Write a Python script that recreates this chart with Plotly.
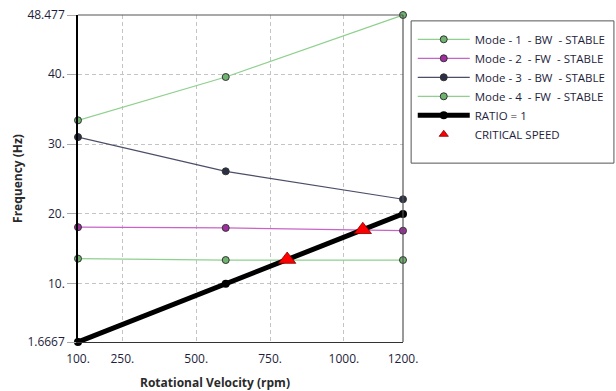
import plotly.graph_objects as go

# Campbell diagram data
speed_rpm = [100, 600, 1200]
mode1_bw = [13.6, 13.4, 13.4]
mode2_fw = [18.1, 18.0, 17.6]
mode3_bw = [31.0, 26.1, 22.1]
mode4_fw = [33.4, 39.6, 48.477]
ratio_1 = [1.6667, 10.0, 20.0]
crit_rpm = [808, 1064]
crit_freq = [13.47, 17.73]

x_ticks = [100, 250, 500, 750, 1000, 1200]
x_ticktext = ["100.", "250.", "500.", "750.", "1000.", "1200."]
y_ticks = [1.6667, 10, 20, 30, 40, 48.477]
y_ticktext = ["1.6667", "10.", "20.", "30.", "40.", "48.477"]

NB = "\u00a0"
TEXT = "#1e1e3c"
fig = go.Figure()


def mode_trace(name, y, line_col, mark_col):
    return go.Scatter(
        x=speed_rpm, y=y, name=name, mode="lines+markers", cliponaxis=False,
        line=dict(color=line_col, width=1.2),
        marker=dict(color=mark_col, size=7, line=dict(color="#333333", width=1)),
    )


fig.add_trace(mode_trace(f"Mode - 1{NB} - BW{NB} - STABLE", mode1_bw, "#8fd08f", "#6fb46f"))
fig.add_trace(mode_trace(f"Mode - 2{NB} - FW{NB} - STABLE", mode2_fw, "#c864c8", "#a02ea0"))
fig.add_trace(mode_trace(f"Mode - 3{NB} - BW{NB} - STABLE", mode3_bw, "#4a4e66", "#2b3045"))
fig.add_trace(mode_trace(f"Mode - 4{NB} - FW{NB} - STABLE", mode4_fw, "#8fd08f", "#6fb46f"))
fig.add_trace(go.Scatter(
    x=speed_rpm, y=ratio_1, name="RATIO = 1", mode="lines+markers", cliponaxis=False,
    line=dict(color="black", width=5),
    marker=dict(color="black", size=8),
))
# critical speed markers on the plot (legend entry drawn by a smaller proxy)
fig.add_trace(go.Scatter(
    x=crit_rpm, y=crit_freq, name="CRITICAL SPEED", mode="markers", showlegend=False,
    cliponaxis=False,
    marker=dict(symbol="triangle-up", color="#ff0000", size=15,
                line=dict(color="#800000", width=0.8)),
))
fig.add_trace(go.Scatter(
    x=[None], y=[None], name="CRITICAL SPEED", mode="markers",
    marker=dict(symbol="triangle-up", color="#ff0000", size=8,
                line=dict(color="#800000", width=0.8)),
))

# legend frame and plot frame
fig.add_shape(type="rect", xref="paper", yref="paper", x0=1.025, x1=1.649, y0=0.547, y1=0.982,
              line=dict(color="#555555", width=1), layer="below")
fig.add_shape(type="line", xref="paper", yref="paper", x0=0, x1=1, y0=1, y1=1,
              line=dict(color="#555555", width=1.2))
fig.add_shape(type="line", xref="paper", yref="paper", x0=1, x1=1, y0=0, y1=1,
              line=dict(color="#555555", width=1.2))

fig.add_annotation(text="<b>Rotational Velocity (rpm)</b>", xref="paper", yref="paper",
                   x=0.42, y=-0.125, xanchor="center", yanchor="middle", showarrow=False,
                   font=dict(size=12, color="#2a2a2a"))

fig.update_layout(
    width=616, height=391,
    margin=dict(l=78, r=213, t=15, b=49, autoexpand=False),
    paper_bgcolor="white", plot_bgcolor="white",
    font=dict(family="Open Sans, DejaVu Sans, sans-serif", size=11, color=TEXT),
    showlegend=True,
    legend=dict(x=1.03, y=0.97, xanchor="left", yanchor="top",
                bgcolor="rgba(0,0,0,0)", borderwidth=0, itemwidth=52,
                font=dict(size=11.5, color=TEXT), tracegroupgap=0),
    xaxis=dict(
        range=[100, 1200], tickvals=x_ticks, ticktext=x_ticktext, automargin=False,
        showgrid=True, gridcolor="#c4c4c4", griddash="4px,3px", gridwidth=1,
        showline=True, linecolor="#333333", linewidth=1,
        ticks="outside", ticklen=6, tickcolor="rgba(0,0,0,0)", zeroline=False,
        tickfont=dict(size=12, color=TEXT),
    ),
    yaxis=dict(
        range=[1.6667, 48.477], tickvals=y_ticks, ticktext=y_ticktext, automargin=False,
        showgrid=True, gridcolor="#c4c4c4", griddash="4px,3px", gridwidth=1,
        showline=True, linecolor="black", linewidth=1.5,
        ticks="outside", ticklen=9, tickcolor="#aaaaaa", zeroline=False,
        tickfont=dict(size=12, color=TEXT),
        title=dict(text="<b>Frequency (Hz)</b>", font=dict(size=12, color="#2a2a2a"), standoff=2),
    ),
)

fig.write_html("out.html")
